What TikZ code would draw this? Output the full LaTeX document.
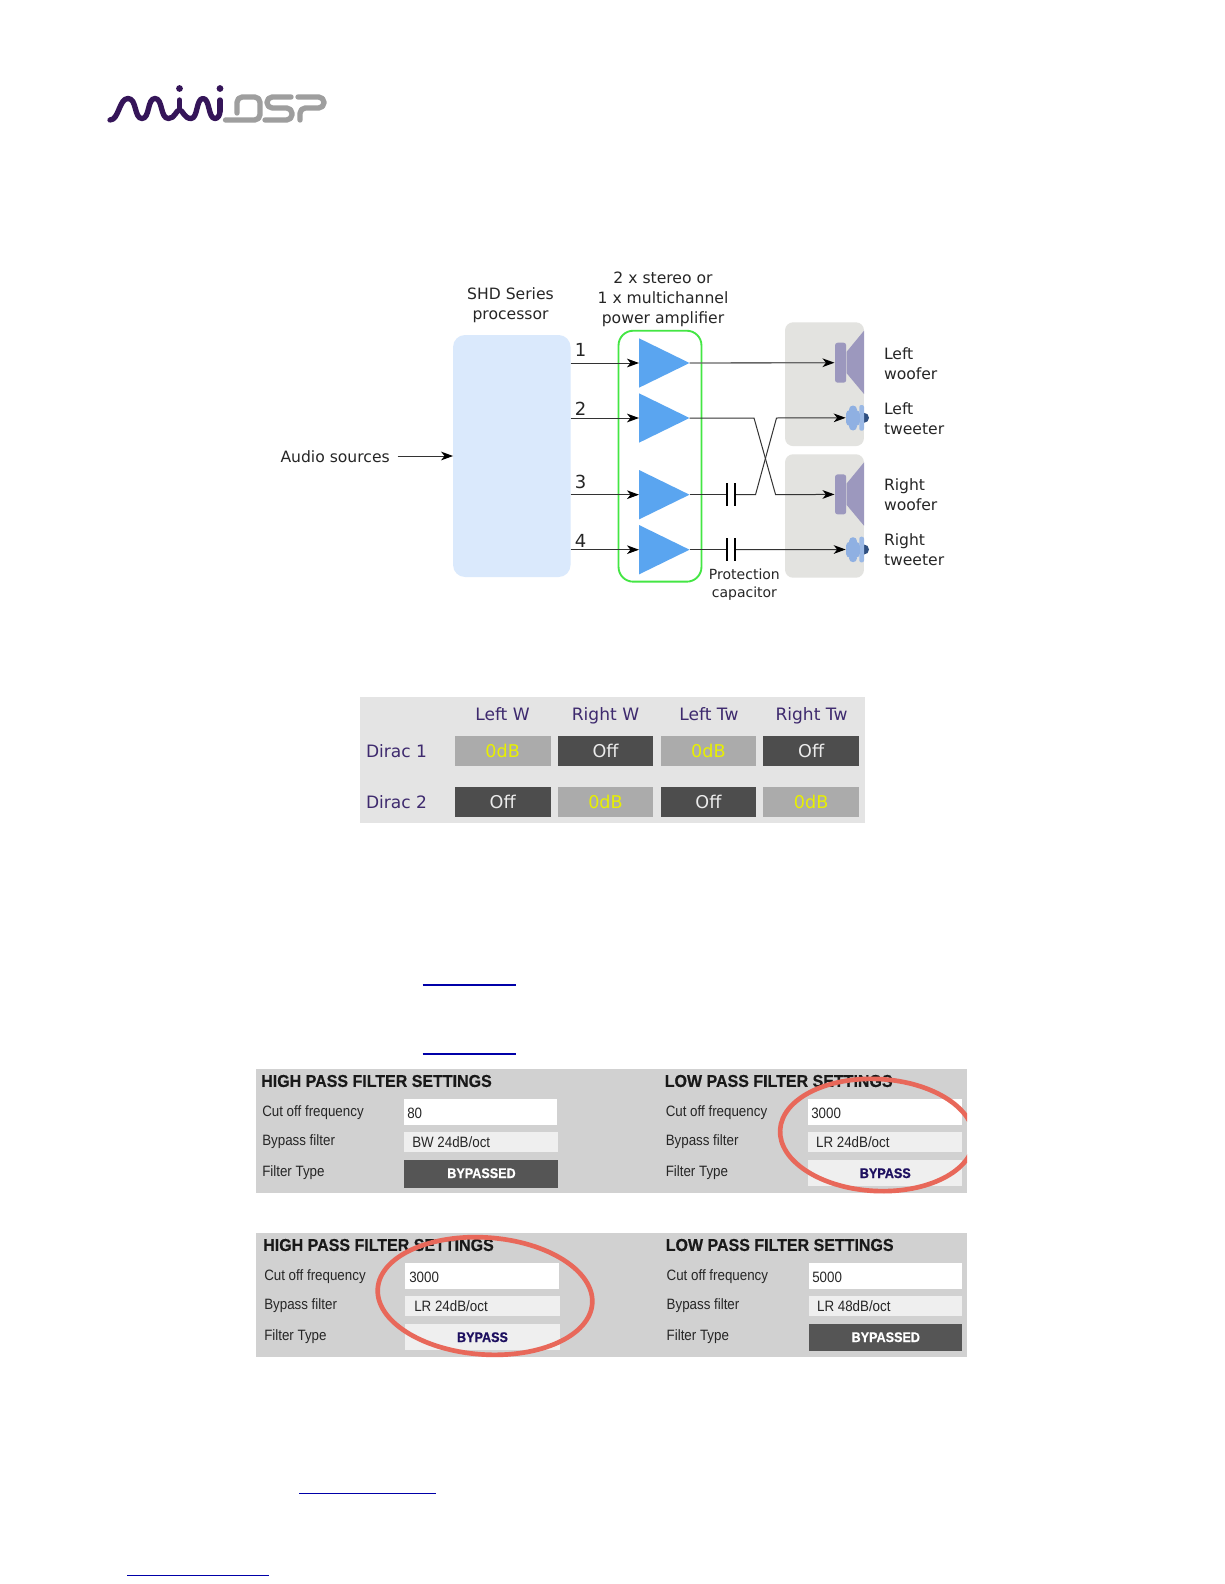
\documentclass[tikz,border=0pt]{standalone}
\usepackage{fontspec}
\usetikzlibrary{arrows.meta,shapes.geometric}
\setmainfont{DejaVu Sans}
\newfontfamily\panelfont[FakeStretch=0.89]{Liberation Sans}
\newfontfamily\paneltitle[FakeStretch=0.93,FakeBold=0.5]{Liberation Sans Bold}
\newfontfamily\panelbtn[FakeStretch=0.9,FakeBold=0.5]{Liberation Sans Bold}
\definecolor{procblue}{HTML}{DAE9FC}
\definecolor{ampblue}{HTML}{5AA5F0}
\definecolor{ampgreen}{HTML}{44E644}
\definecolor{spkgrey}{HTML}{E3E3E0}
\definecolor{woofer}{HTML}{9C98BE}
\definecolor{tweeter}{HTML}{8FB0E2}
\definecolor{tweetdark}{HTML}{2F4F80}
\definecolor{wire}{HTML}{333333}
\definecolor{tablebg}{HTML}{E4E4E4}
\definecolor{celldark}{HTML}{4D4D4D}
\definecolor{celllight}{HTML}{ABABAB}
\definecolor{cellyellow}{HTML}{E8F000}
\definecolor{headpurple}{HTML}{3E2A6E}
\definecolor{panelbg}{HTML}{D1D1D1}
\definecolor{fieldgrey}{HTML}{EFEFEF}
\definecolor{btndark}{HTML}{555555}
\definecolor{bypassblue}{HTML}{1E1060}
\definecolor{circlered}{HTML}{E8685A}
\definecolor{linkblue}{HTML}{0000A8}
\definecolor{logopurple}{HTML}{351559}
\definecolor{logogrey}{HTML}{9E9E9E}
\tikzset{
  x=0.75pt,y=-0.75pt,
  boxnode/.style={inner sep=0pt,outer sep=0pt,rectangle},
  lab/.style={inner sep=0pt,outer sep=0pt,align=center,text=black!85,font=\fontsize{11.7}{15}\selectfont},
  lableft/.style={lab,anchor=west,align=left},
  smalllab/.style={lab,font=\fontsize{10.5}{13.3}\selectfont},
  numlab/.style={lab,font=\fontsize{13.5}{15}\selectfont},
  wireline/.style={draw=wire,line width=0.75pt},
  tip/.style={wireline,-{Stealth[length=9pt,width=6.5pt,inset=2.6pt,black]}},
  capbar/.style={draw=black,line width=1.4pt},
  amptri/.style={fill=ampblue},
  cellbox/.style={boxnode,minimum width=71.7pt,minimum height=22.6pt,font=\fontsize{13.2}{15}\selectfont},
  offcell/.style={cellbox,fill=celldark,text=white!92!black},
  oncell/.style={cellbox,fill=celllight,text=cellyellow},
  headlab/.style={inner sep=0pt,text=headpurple,text height=10pt,text depth=2.5pt,font=\fontsize{12.8}{15}\selectfont},
  ptitle/.style={inner sep=0pt,anchor=west,font=\paneltitle\fontsize{12.9}{15}\selectfont,text=black!90},
  plab/.style={inner sep=0pt,anchor=west,font=\panelfont\fontsize{11.25}{14}\selectfont,text=black!85},
  pbtn/.style={inner sep=0pt,font=\panelbtn\fontsize{10.5}{14}\selectfont},
  redring/.style={draw=circlered,line width=3.5pt},
  linkline/.style={draw=linkblue,line width=0.8pt},
  logow/.style={draw=logopurple,line width=4pt,line cap=round,line join=round},
  logog/.style={draw=logogrey,line width=4pt,line cap=round,line join=round,rounded corners=4pt},
}
\begin{document}
\begin{tikzpicture}
\useasboundingbox (0,0) rectangle (1224,1584);
\fill[white] (0,0) rectangle (1224,1584);
% ---------- logo
\draw[logow] (110,120) .. controls (119,120) and (119,98.5) .. (128,98.5)
  .. controls (137,98.5) and (134,118.5) .. (142,118.5)
  .. controls (150,118.5) and (147,98.5) .. (155,98.5)
  .. controls (163,98.5) and (160,118.5) .. (168.5,118.5)
  .. controls (175,118.5) and (176,110) .. (179.5,110)
  .. controls (183,110) and (184,118.5) .. (191,118.5)
  .. controls (198,118.5) and (196,98.5) .. (203,98.5)
  .. controls (210,98.5) and (208,118.5) .. (215,118.5)
  .. controls (218,118.5) and (220,115) .. (220,111);
\draw[logow] (179.5,100) -- (179.5,110);
\draw[logow] (220,100) -- (220,111);
\fill[logopurple] (179.5,88.5) circle (3.4);
\fill[logopurple] (220,88.5) circle (3.4);
\draw[logog] (237,113) -- (237,97) -- (260,97) -- (260,120) -- (225.5,120);
\draw[logog] (291,97) -- (267,97) -- (267,108) -- (292,108) -- (292,120) -- (265,120);
\draw[logog] (300,120) -- (300,108) -- (324,108) -- (324,97) -- (298,97);
% ---------- signal diagram
\node[boxnode,fill=procblue,rounded corners=9pt,minimum width=88.1pt,minimum height=181.5pt] (proc) at (511.8,456) {};
\node[boxnode,fill=spkgrey,rounded corners=6pt,minimum width=59.2pt,minimum height=92.8pt] (spkL) at (824.5,384.2) {};
\node[boxnode,fill=spkgrey,rounded corners=6pt,minimum width=59.2pt,minimum height=92.6pt] (spkR) at (824.5,516) {};
\node[boxnode,draw=ampgreen,line width=1.4pt,rounded corners=11pt,minimum width=62.2pt,minimum height=188.2pt] (amp) at (660,456.2) {};
\foreach \n/\y in {1/363,2/418,3/494.7,4/549.7}{
  \fill[amptri] (639,\y-24.7) -- (689.5,\y) -- (639,\y+24.7) -- cycle;
  \coordinate (in\n) at (639,\y);
  \coordinate (out\n) at (689.5,\y);
}
\foreach \o/\nm in {0/L,131.7/R}{
  \begin{scope}[yshift=-\o*0.75pt]
  \fill[woofer] (846.7,351.7) -- (864,330.7) -- (864,394) -- (846.7,373.3) -- cycle;
  \fill[woofer,rounded corners=2pt] (835,342.7) rectangle (846.2,382.7);
  \end{scope}
  \coordinate (woof\nm) at (834.5,362.7+\o);
  \coordinate (tw\nm) at (845.7,417.8+\o);
  \begin{scope}[yshift=-\o*0.75pt]
  \fill[tweetdark] (864,412.8) arc[start angle=-90,end angle=90,radius=5] -- cycle;
  \fill[tweeter!90!white,rounded corners=1.5pt] (859.3,405) rectangle (864,430.7);
  \fill[tweeter,rounded corners=3pt] (846,410) rectangle (859.8,426);
  \fill[tweeter] (853,409.5) circle (4);
  \fill[tweeter] (853,426.5) circle (4);
  \end{scope}
}
\coordinate (audio) at (397.5,456);
\draw[tip] (audio) -- (proc.west |- audio);
\foreach \n in {1,2,3,4}{ \draw[tip] (proc.east |- in\n) -- (in\n); }
\draw[tip,draw=black!60,line width=1pt] (out1) -- (woofL);
\coordinate (c3a) at (727.4,494.7); \coordinate (c3b) at (735.4,494.7);
\coordinate (c4a) at (727.4,549.7); \coordinate (c4b) at (735.4,549.7);
\coordinate (x2a) at (754,418); \coordinate (x2b) at (775.6,494.7);
\coordinate (x3a) at (755.5,494.7); \coordinate (x3b) at (776.5,418);
\draw[tip] (out2) -- (x2a) -- (x2b) -- (woofR);
\draw[wireline] (out3) -- (c3a);
\draw[tip] (c3b) -- (x3a) -- (x3b) -- (twL);
\draw[wireline] (out4) -- (c4a);
\draw[tip] (c4b) -- (twR);
\foreach \c in {c3a,c3b,c4a,c4b}{ \draw[capbar] ([yshift=8.5pt]\c) -- ([yshift=-8.5pt]\c); }
\node[lab] (tProc) at (510.5,305) {SHD Series\\processor};
\node[lab] (tAmp) at (663,299) {2 x stereo or\\1 x multichannel\\power amplifier};
\node[lab,anchor=west] (tAudio) at (280.5,456.3) {Audio sources};
\node[numlab] (n1) at (580.5,350.3) {1};
\node[numlab] (n2) at (580.5,408.4) {2};
\node[numlab] (n3) at (580.5,481.7) {3};
\node[numlab] (n4) at (580.5,540.5) {4};
\node[smalllab] (tCap) at (744.4,584.7) {Protection\\capacitor};
\node[lableft] (tLW) at (884,363.6) {Left\\woofer};
\node[lableft] (tLT) at (884,419) {Left\\tweeter};
\node[lableft] (tRW) at (884,494.9) {Right\\woofer};
\node[lableft] (tRT) at (884,550) {Right\\tweeter};
% ---------- routing table
\fill[tablebg] (360,697) rectangle (865,823);
\node[headlab] (h1) at (502.5,715.5) {Left W};
\node[headlab] (h2) at (605.5,715.5) {Right W};
\node[headlab] (h3) at (709,715.5) {Left Tw};
\node[headlab] (h4) at (811.5,715.5) {Right Tw};
\node[headlab,anchor=west] (d1) at (365.8,752) {Dirac 1};
\node[headlab,anchor=west] (d2) at (365.8,803) {Dirac 2};
\node[oncell] (a1) at (502.7,751) {0dB};
\node[offcell] (a2) at (605.5,751) {Off};
\node[oncell] (a3) at (708.4,751) {0dB};
\node[offcell] (a4) at (811.2,751) {Off};
\node[offcell] (b1) at (502.7,801.7) {Off};
\node[oncell] (b2) at (605.5,801.7) {0dB};
\node[offcell] (b3) at (708.4,801.7) {Off};
\node[oncell] (b4) at (811.2,801.7) {0dB};
% ---------- links
\draw[linkline] (422.7,985) -- (516,985);
\draw[linkline,line width=1.5pt] (422.7,1054) -- (516,1054);
\draw[linkline] (299,1493.3) -- (436,1493.3);
\draw[linkline] (127,1575.3) -- (269,1575.3);
% ---------- filter panels
\fill[panelbg] (255.5,1069) rectangle (967,1193);
\fill[panelbg] (255.5,1233) rectangle (967,1357);
% panel 1 left
\node[ptitle] at (261,1081) {HIGH PASS FILTER SETTINGS};
\node[plab] at (262,1112.5) {Cut off frequency};
\node[plab] at (262,1141.5) {Bypass filter};
\node[plab] at (262,1173) {Filter Type};
\fill[white] (403.5,1099.2) rectangle (556.7,1124.8);
\fill[fieldgrey] (403.5,1131.5) rectangle (557.7,1152.2);
\fill[btndark] (403.5,1160.2) rectangle (557.7,1187.5);
\node[plab] at (407,1113) {80};
\node[plab] at (412,1142.3) {BW 24dB/oct};
\node[pbtn,text=white] at (481.5,1173.2) {BYPASSED};
% panel 1 right
\node[ptitle] at (664.5,1081) {LOW PASS FILTER SETTINGS};
\node[plab] at (665.5,1112.5) {Cut off frequency};
\node[plab] at (665.5,1141.5) {Bypass filter};
\node[plab] at (665.5,1173) {Filter Type};
\fill[white] (808.3,1099.2) rectangle (961.5,1124.8);
\fill[fieldgrey] (808.3,1131.5) rectangle (961.5,1152.2);
\fill[fieldgrey] (808.3,1159.5) rectangle (961.5,1186.2);
\node[plab] at (811,1113) {3000};
\node[plab] at (815.8,1142.3) {LR 24dB/oct};
\node[pbtn,text=bypassblue] at (885.3,1173.2) {BYPASS};
% panel 2 left
\node[ptitle] at (263,1245) {HIGH PASS FILTER SETTINGS};
\node[plab] at (264,1276.5) {Cut off frequency};
\node[plab] at (264,1305.5) {Bypass filter};
\node[plab] at (264,1337) {Filter Type};
\fill[white] (405.4,1263.2) rectangle (558.6,1288.8);
\fill[fieldgrey] (405.4,1295.5) rectangle (559.6,1316.2);
\fill[fieldgrey] (405.4,1323.5) rectangle (559.6,1350.2);
\node[plab] at (409,1277) {3000};
\node[plab] at (414,1306.3) {LR 24dB/oct};
\node[pbtn,text=bypassblue] at (482.5,1337.2) {BYPASS};
% panel 2 right
\node[ptitle] at (665.5,1245) {LOW PASS FILTER SETTINGS};
\node[plab] at (666.4,1276.5) {Cut off frequency};
\node[plab] at (666.4,1305.5) {Bypass filter};
\node[plab] at (666.4,1337) {Filter Type};
\fill[white] (808.7,1263.2) rectangle (961.9,1288.8);
\fill[fieldgrey] (808.7,1295.5) rectangle (962.4,1316.2);
\fill[btndark] (808.7,1323.5) rectangle (962.4,1350.9);
\node[plab] at (812,1277) {5000};
\node[plab] at (816.8,1306.3) {LR 48dB/oct};
\node[pbtn,text=white] at (885.8,1337.2) {BYPASSED};
% red rings
\begin{scope}
\clip (255.5,1069) rectangle (967,1193);
\draw[redring] (877,1135) ellipse[x radius=97,y radius=56,rotate=-3];
\end{scope}
\begin{scope}
\clip (255.5,1233) rectangle (967,1357);
\draw[redring] (485,1296) ellipse[x radius=107.5,y radius=58.5,rotate=-4];
\end{scope}
\end{tikzpicture}
\end{document}
